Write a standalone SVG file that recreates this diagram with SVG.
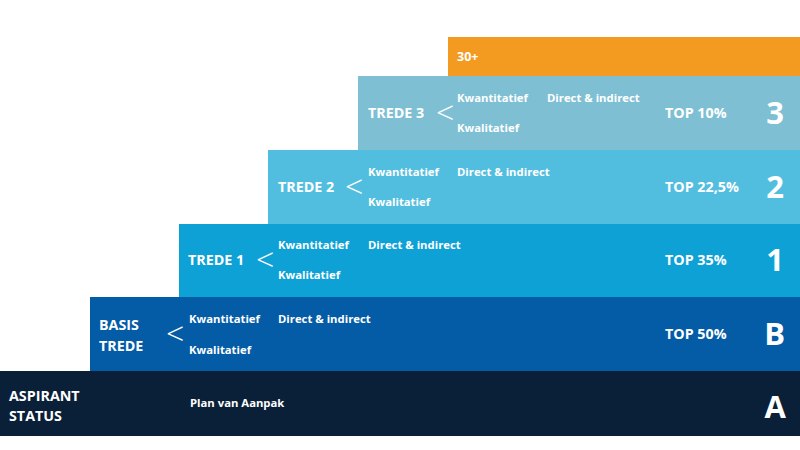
<svg xmlns="http://www.w3.org/2000/svg" width="800" height="450" viewBox="0 0 800 450">
<style>
text{font-family:"Open Sans","Noto Sans","Liberation Sans",sans-serif;fill:#fff;font-weight:700}
.t{font-size:14.3px}
.s{font-size:11.3px}
.lt{font-size:32px;font-weight:300}
.n{font-size:31px}
.top{font-size:14.3px}
</style>
<rect width="800" height="450" fill="#fff"/>
<g id="tier-30">
<rect x="448" y="37" width="352" height="39" fill="#F39A21"/>
<text class="s" x="457" y="61" style="font-size:12.5px">30+</text>
</g>
<g id="trede-3">
<rect x="358" y="76" width="442" height="74" fill="#7EBFD4"/>
<text class="t" x="368" y="118">TREDE 3</text>
<text class="lt" x="436" y="124">&lt;</text>
<text class="s" x="457" y="102">Kwantitatief</text>
<text class="s" x="547" y="102">Direct &amp; indirect</text>
<text class="s" x="457" y="132">Kwalitatief</text>
<text class="top" x="665" y="118">TOP 10%</text>
<text class="n" x="784" y="124" text-anchor="end">3</text>
</g>
<g id="trede-2">
<rect x="268" y="150" width="532" height="74" fill="#52BEDF"/>
<text class="t" x="278" y="192">TREDE 2</text>
<text class="lt" x="345" y="198">&lt;</text>
<text class="s" x="368" y="176">Kwantitatief</text>
<text class="s" x="457" y="176">Direct &amp; indirect</text>
<text class="s" x="368" y="206">Kwalitatief</text>
<text class="top" x="665" y="192">TOP 22,5%</text>
<text class="n" x="784" y="198" text-anchor="end">2</text>
</g>
<g id="trede-1">
<rect x="179" y="224" width="621" height="73" fill="#0EA1D6"/>
<text class="t" x="188" y="265">TREDE 1</text>
<text class="lt" x="256" y="271">&lt;</text>
<text class="s" x="278" y="249">Kwantitatief</text>
<text class="s" x="368" y="249">Direct &amp; indirect</text>
<text class="s" x="278" y="279">Kwalitatief</text>
<text class="top" x="665" y="265">TOP 35%</text>
<text class="n" x="784" y="271" text-anchor="end">1</text>
</g>
<g id="basis-trede">
<rect x="90" y="297" width="710" height="74" fill="#045BA6"/>
<text class="t" x="99" y="330">BASIS</text>
<text class="t" x="99" y="351">TREDE</text>
<text class="lt" x="166" y="345">&lt;</text>
<text class="s" x="189" y="323">Kwantitatief</text>
<text class="s" x="278" y="323">Direct &amp; indirect</text>
<text class="s" x="189" y="354">Kwalitatief</text>
<text class="top" x="665" y="339">TOP 50%</text>
<text class="n" x="785" y="345" text-anchor="end">B</text>
</g>
<g id="aspirant-status">
<rect x="0" y="371" width="800" height="65" fill="#0A2038"/>
<text class="t" x="9" y="401">ASPIRANT</text>
<text class="t" x="9" y="421">STATUS</text>
<text class="s" x="190" y="407">Plan van Aanpak</text>
<text class="n" x="786" y="418" text-anchor="end">A</text>
</g>
<g id="connectors"/>
</svg>
